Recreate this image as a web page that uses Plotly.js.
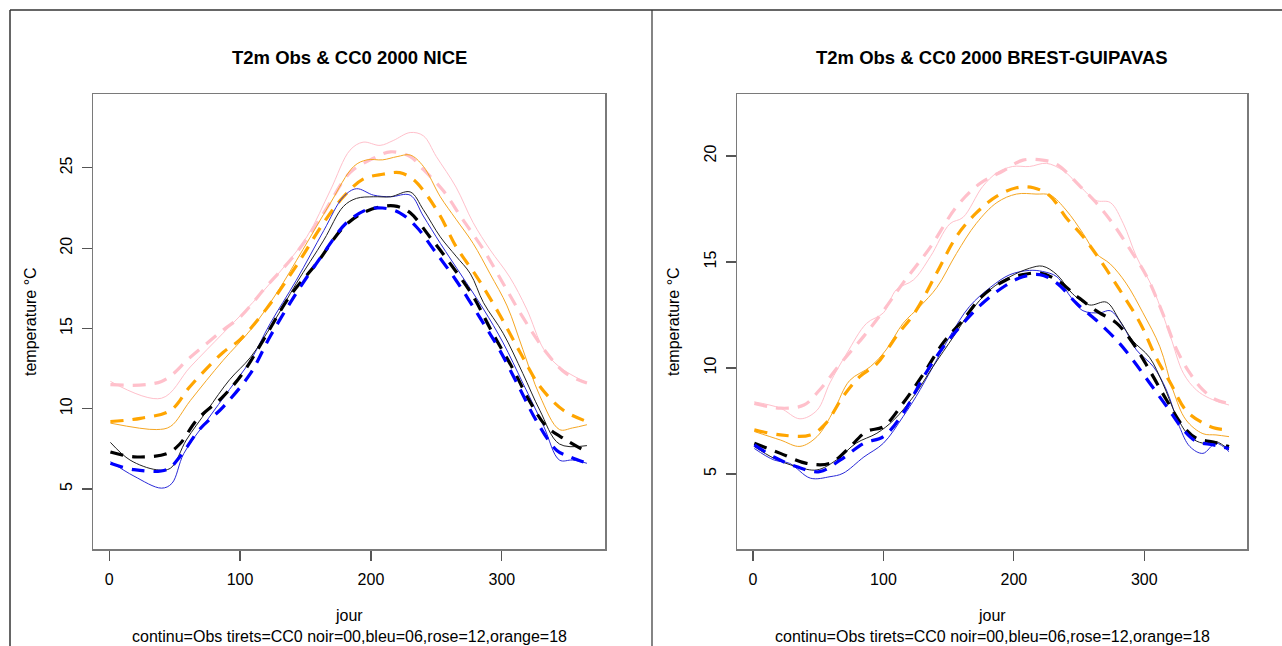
<!DOCTYPE html>
<html>
<head>
<meta charset="utf-8">
<script src="https://cdn.plot.ly/plotly-3.0.1.min.js"></script>
<style>
html,body{margin:0;padding:0;background:#fff;}
#chart{width:1282px;height:646px;}
</style>
</head>
<body>
<div id="chart"></div>
<script>
// ---------- DATA ----------
// NICE
const niceObs00Jour = [1,16,36,47,59,75,92,108,125,143,164,179,189,202,215,230,240,253,265,276,286,301,316,329,344,365];
const niceObs00Temp = [7.9,6.8,6.2,6.3,8.05,9.9,11.8,13.2,15.3,17.8,20.5,22.6,23.1,23.2,23.2,23.5,22.4,20.7,19.5,18.4,16.6,14.7,12.2,9.9,7.8,7.7];
const niceCC000Jour = [1,19,44,54,67,87,102,118,138,159,179,194,209,220,230,245,260,278,293,309,321,334,349,365];
const niceCC000Temp = [7.3,7.0,7.2,7.8,9.3,10.75,12.2,14.3,17.0,19.1,21.3,22.2,22.6,22.6,22.2,20.7,19.1,17.0,14.7,12.4,10.5,8.9,8.05,7.3];
const niceObs06Jour = [1,19,40,48,57,75,92,108,123,143,164,179,189,202,215,230,240,253,270,286,301,316,332,344,354,365];
const niceObs06Temp = [6.7,5.8,5.05,5.35,7.2,9.3,11.2,13.0,15.3,18.0,21.1,23.2,23.7,23.3,23.2,23.3,22.0,20.3,18.2,16.2,14.1,11.6,8.9,6.8,6.8,6.6];
const niceCC006Jour = [1,19,44,54,69,87,108,123,143,164,181,197,209,222,235,248,265,283,298,314,326,342,352,365];
const niceCC006Temp = [6.6,6.2,6.2,7.0,8.7,10.1,12.2,14.5,17.2,19.7,21.55,22.4,22.5,22.2,21.3,19.9,18.0,15.7,13.7,11.2,9.3,7.4,7.0,6.6];
const niceObs12Jour = [1,40,62,87,105,125,151,169,184,194,207,217,230,240,250,265,278,291,306,319,332,344,365];
const niceObs12Temp = [11.7,10.65,12.6,14.7,16.2,18.0,20.7,23.6,26.1,26.6,26.4,26.7,27.2,27.0,25.7,23.8,21.6,19.9,18.2,16.2,13.7,12.6,11.6];
const niceCC012Jour = [1,40,62,87,100,120,143,164,184,202,215,230,240,255,270,286,301,316,334,349,365];
const niceCC012Temp = [11.5,11.7,13.2,14.9,15.7,17.6,19.7,22.2,24.7,25.6,26.0,25.7,24.9,23.6,21.8,19.9,17.8,15.7,13.5,12.2,11.6];
const niceObs18Jour = [1,36,47,62,87,108,128,148,169,187,197,209,220,230,240,253,265,278,291,304,316,329,344,354,365];
const niceObs18Temp = [9.1,8.7,8.9,10.5,13.0,14.9,17.2,19.9,22.8,25.1,25.5,25.5,25.7,25.8,25.1,23.2,21.8,20.3,18.4,16.4,13.7,10.8,8.7,8.8,9.0];
const niceCC018Jour = [1,24,47,62,87,100,120,143,164,179,194,209,222,232,240,253,265,281,298,314,329,347,365];
const niceCC018Temp = [9.2,9.4,9.9,11.4,13.5,14.3,16.2,18.9,21.6,23.2,24.3,24.6,24.7,24.3,23.6,22.0,20.1,18.2,15.9,13.5,11.4,9.9,9.2];

// BREST-GUIPAVAS
const brestObs00Jour = [1,16,33,49,64,79,95,108,123,138,154,166,182,197,212,222,233,245,258,271,281,291,304,314,325,335,345,355,365];
const brestObs00Temp = [6.29,5.74,5.35,5.19,5.66,6.45,6.92,7.55,8.65,10.06,11.5,12.6,13.7,14.3,14.7,14.8,14.4,13.5,12.97,13.1,12.26,11.3,10.5,9.3,7.7,6.76,6.45,6.53,6.13];
const brestCC000Jour = [1,21,41,59,72,87,100,115,131,146,161,176,194,207,220,233,248,263,279,291,304,317,330,340,353,365];
const brestCC000Temp = [6.45,5.97,5.5,5.5,6.13,7.0,7.23,8.33,9.75,11.2,12.26,13.4,14.15,14.4,14.47,14.15,13.4,12.7,12.1,11.2,9.9,8.5,7.23,6.68,6.5,6.29];
const brestObs06Jour = [1,16,28,44,59,69,85,100,115,125,138,151,166,182,197,212,222,233,243,253,266,274,284,294,307,317,327,335,345,355,365];
const brestObs06Temp = [6.2,5.66,5.5,4.8,4.87,5.03,5.8,6.45,7.7,8.65,10.06,11.5,12.9,13.8,14.4,14.6,14.55,14.3,13.4,12.7,12.6,12.7,11.95,10.85,10.06,8.96,7.23,6.29,5.97,6.45,6.05];
const brestCC006Jour = [1,16,33,51,67,85,100,115,131,146,161,176,194,207,220,233,248,263,279,291,304,317,330,340,353,365];
const brestCC006Temp = [6.37,5.8,5.35,5.11,5.66,6.45,6.76,7.86,9.6,11.0,12.1,13.05,13.9,14.3,14.4,14.0,13.05,12.26,11.3,10.4,9.3,8.2,7.08,6.53,6.37,6.2];
const brestObs12Jour = [1,21,36,49,59,72,87,100,110,123,136,151,161,176,187,199,212,225,238,251,263,274,284,294,307,320,330,340,350,365];
const brestObs12Temp = [8.4,8.1,7.6,8.0,9.3,10.7,12.1,12.6,13.7,14.15,15.25,16.8,17.1,18.55,19.2,19.5,19.5,19.65,19.3,18.55,17.9,17.8,16.8,15.25,13.7,11.5,9.75,8.96,8.57,8.25];
const brestCC012Jour = [1,21,39,51,67,85,100,115,136,156,174,192,207,222,233,251,263,276,289,302,314,325,335,345,355,365];
const brestCC012Temp = [8.33,8.1,8.25,8.96,10.2,11.5,12.7,14.0,15.7,17.6,18.7,19.3,19.8,19.8,19.6,18.55,17.8,16.8,15.6,14.3,12.6,10.85,9.75,8.96,8.5,8.33];
const brestObs18Jour = [1,21,36,49,62,74,90,102,115,128,141,156,171,187,202,217,228,240,253,263,274,286,299,312,322,332,345,355,365];
const brestObs18Temp = [7.0,6.6,6.3,6.76,8.0,9.4,10.06,10.85,12.1,12.9,13.8,15.4,16.8,17.8,18.2,18.2,18.15,17.45,16.35,15.4,14.9,14.0,12.6,11.0,8.96,7.55,6.9,6.84,6.76];
const brestCC018Jour = [1,21,44,56,69,82,95,110,125,141,156,171,187,202,215,228,240,253,266,281,297,309,320,332,345,355,365];
const brestCC018Temp = [7.08,6.84,6.84,7.4,8.65,9.6,10.2,11.5,12.7,14.5,16.2,17.3,18.1,18.5,18.5,18.1,17.1,16.2,15.1,13.7,12.1,10.5,9.3,8.0,7.4,7.15,7.08];

// Text
const titles = ["T2m Obs & CC0 2000 NICE", "T2m Obs & CC0 2000 BREST-GUIPAVAS"];
const xTitle = "jour";
const yTitle = "temperature °C";
const footer = "continu=Obs tirets=CC0 noir=00,bleu=06,rose=12,orange=18";
const xTicks = [0,100,200,300];
const yTicksNice = [5,10,15,20,25];
const yTicksBrest = [5,10,15,20];

// ---------- STYLES ----------
const colors = {"00":"#000000","06":"#0000ff","12":"#ffc0cb","18":"#ffa500"};
const obsColors = {"00":"#222222","06":"#2a2ad8","12":"#ffc0cb","18":"#f5a623"};

function obs(x,y,h,xa,ya){
  return {x:x,y:y,xaxis:xa,yaxis:ya,mode:'lines',type:'scatter',hoverinfo:'skip',
    line:{color:obsColors[h],width:1,shape:'spline',smoothing:1}};
}
function cc0(x,y,h,xa,ya){
  return {x:x,y:y,xaxis:xa,yaxis:ya,mode:'lines',type:'scatter',hoverinfo:'skip',
    line:{color:colors[h],width:3.2,dash:'13px,9px',shape:'spline',smoothing:1}};
}

const traces = [
  obs(niceObs12Jour,niceObs12Temp,"12",'x','y'),
  cc0(niceCC012Jour,niceCC012Temp,"12",'x','y'),
  obs(niceObs18Jour,niceObs18Temp,"18",'x','y'),
  cc0(niceCC018Jour,niceCC018Temp,"18",'x','y'),
  obs(niceObs06Jour,niceObs06Temp,"06",'x','y'),
  obs(niceObs00Jour,niceObs00Temp,"00",'x','y'),
  cc0(niceCC000Jour,niceCC000Temp,"00",'x','y'),
  cc0(niceCC006Jour,niceCC006Temp,"06",'x','y'),

  obs(brestObs12Jour,brestObs12Temp,"12",'x2','y2'),
  cc0(brestCC012Jour,brestCC012Temp,"12",'x2','y2'),
  obs(brestObs18Jour,brestObs18Temp,"18",'x2','y2'),
  cc0(brestCC018Jour,brestCC018Temp,"18",'x2','y2'),
  obs(brestObs06Jour,brestObs06Temp,"06",'x2','y2'),
  obs(brestObs00Jour,brestObs00Temp,"00",'x2','y2'),
  cc0(brestCC000Jour,brestCC000Temp,"00",'x2','y2'),
  cc0(brestCC006Jour,brestCC006Temp,"06",'x2','y2')
];

const W = 1282, H = 646;
const px = v => v / W;
const py = v => 1 - v / H;
const font = {family:'"Liberation Sans", Arial, Helvetica, sans-serif', size:16, color:'#000'};

function xaxisDef(domain, anchor){
  return {domain:domain, anchor:anchor, range:[-12.3,378.8], tickvals:xTicks, ticktext:xTicks.map(String),
    showgrid:false, zeroline:false, showline:true, mirror:true, linecolor:'#7a7a7a', linewidth:1.5,
    ticks:'outside', ticklen:10, tickcolor:'#555', tickwidth:1.2, tickfont:font, ticklabelstandoff:5, fixedrange:true};
}
function yaxisDef(range, ticks, anchor){
  return {domain:[py(549), py(94)], anchor:anchor, range:range, tickvals:ticks, ticktext:ticks.map(String),
    showgrid:false, zeroline:false, showline:true, mirror:true, linecolor:'#7a7a7a', linewidth:1.5,
    ticks:'outside', ticklen:10, tickcolor:'#555', tickwidth:1.2, tickfont:font, tickangle:-90, ticklabelstandoff:3, fixedrange:true};
}

function ann(text, x, y, extra){
  return Object.assign({text:text, xref:'paper', yref:'paper', x:px(x), y:py(y), xanchor:'center', yanchor:'middle',
    showarrow:false, font:font}, extra || {});
}

const layout = {
  width:W, height:H, margin:{l:0,r:0,t:0,b:0}, paper_bgcolor:'#fff', plot_bgcolor:'#fff',
  showlegend:false, font:font,
  xaxis: xaxisDef([px(93),px(605)],'y'),
  yaxis: yaxisDef([1.26,29.6], yTicksNice, 'x'),
  xaxis2: xaxisDef([px(737),px(1247)],'y2'),
  yaxis2: yaxisDef([1.46,22.92], yTicksBrest, 'x2'),
  annotations: [
    ann('<b>'+titles[0]+'</b>', 349, 57, {font:Object.assign({},font,{size:18.5})}),
    ann('<b>'+titles[1]+'</b>', 992, 57, {font:Object.assign({},font,{size:18.5})}),
    ann(yTitle, 30, 322, {textangle:-90}),
    ann(yTitle, 673, 322, {textangle:-90}),
    ann(xTitle, 349, 615),
    ann(xTitle, 992, 615),
    ann(footer, 349, 636),
    ann(footer, 992, 636)
  ],
  shapes: [
    {type:'line', xref:'paper', yref:'paper', x0:px(10), x1:px(10), y0:py(10), y1:0, line:{color:'#333',width:1.5}},
    {type:'line', xref:'paper', yref:'paper', x0:px(10), x1:1, y0:py(10), y1:py(10), line:{color:'#333',width:1.5}},
    {type:'line', xref:'paper', yref:'paper', x0:px(652), x1:px(652), y0:py(10), y1:0, line:{color:'#333',width:1.2}}
  ]
};

Plotly.newPlot('chart', traces, layout, {staticPlot:true, displayModeBar:false});
</script>
</body>
</html>
